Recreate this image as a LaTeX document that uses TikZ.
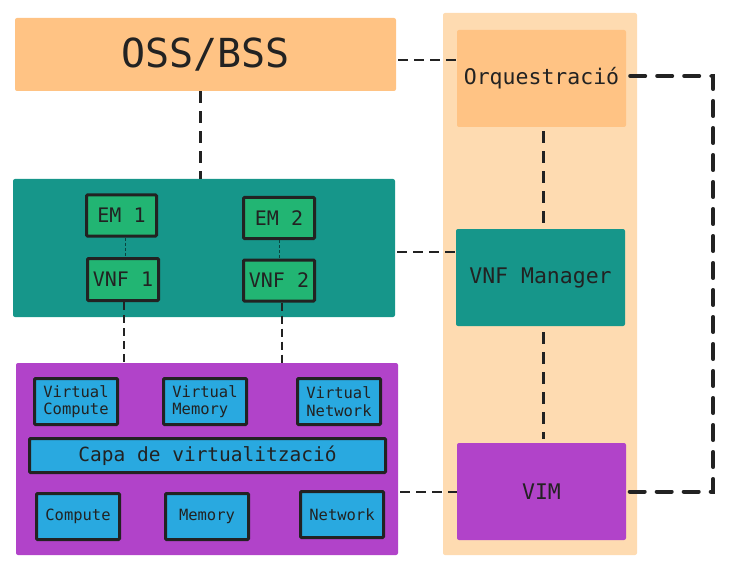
\documentclass[tikz,border=0pt]{standalone}
\usepackage{fontspec}
\newfontfamily\monof{DejaVu Sans Mono}
\definecolor{peach}{HTML}{FFC384}
\definecolor{peachbg}{HTML}{FEDBB1}
\definecolor{tealc}{HTML}{16968A}
\definecolor{greenc}{HTML}{22B573}
\definecolor{purplec}{HTML}{B143C9}
\definecolor{bluec}{HTML}{29A9E0}
\definecolor{inkc}{HTML}{222222}
\tikzset{
  flat/.style={draw=none, rounded corners=2pt, inner sep=0pt, text=inkc},
  boxed/.style={draw=inkc, line width=3pt, rounded corners=1pt, inner sep=0pt, text=inkc},
  fs/.style={font=\monof\fontsize{#1}{#1}\selectfont},
  fsl/.style={font=\monof\fontsize{15.5}{17.5}\selectfont, align=left},
  dthin/.style={draw=inkc, line width=2pt, dash pattern=on 10pt off 6pt},
  dmid/.style={draw=inkc, line width=3pt, dash pattern=on 12pt off 8pt},
  dthick/.style={draw=inkc, line width=4pt, line cap=round, dash pattern=on 15pt off 12pt},
  demvnf/.style={draw=black!55!tealc, line width=0.8pt, dash pattern=on 3pt off 2pt},
  dvnf/.style={draw=inkc, line width=2pt, dash pattern=on 8pt off 5pt},
}
\begin{document}
\begin{tikzpicture}[x=1pt,y=-1pt]
\useasboundingbox (0,0) rectangle (736,572);
% orchestration column background
\node[flat, fill=peachbg, minimum width=194pt, minimum height=542pt] (col) at (540,284) {};
% OSS/BSS
\node[flat, fill=peach, minimum width=381pt, minimum height=73pt, fs=40] (oss) at (205.5,54.5) {OSS/BSS};
% right column
\node[flat, fill=peach, minimum width=169pt, minimum height=97pt, fs=21.5] (orq) at (541.5,78.5) {Orquestració};
\node[flat, fill=tealc, minimum width=169pt, minimum height=97pt, fs=21.5] (vnfm) at (540.5,277.5) {VNF Manager};
\node[flat, fill=purplec, minimum width=169pt, minimum height=97pt, fs=21.5] (vim) at (541.5,491.5) {VIM};
% VNF area
\node[flat, fill=tealc, minimum width=382pt, minimum height=138pt] (nfv) at (204,248) {};
\node[boxed, fill=greenc, minimum width=70pt, minimum height=41pt, fs=20] (em1) at (121.5,215.5) {EM 1};
\node[boxed, fill=greenc, minimum width=71pt, minimum height=41pt, fs=20] (em2) at (279,218) {EM 2};
\node[boxed, fill=greenc, minimum width=71pt, minimum height=42pt, fs=20] (vnf1) at (123,279.5) {VNF 1};
\node[boxed, fill=greenc, minimum width=71pt, minimum height=41pt, fs=20] (vnf2) at (279,280.5) {VNF 2};
% NFVI
\node[flat, fill=purplec, minimum width=382pt, minimum height=192pt] (nfvi) at (207,459) {};
\node[boxed, fill=bluec, minimum width=83pt, minimum height=46pt, fsl] (vc) at (76,401.5) {Virtual\\Compute};
\node[boxed, fill=bluec, minimum width=83pt, minimum height=46pt, fsl] (vm) at (205,401.5) {Virtual\\Memory};
\node[boxed, fill=bluec, minimum width=83pt, minimum height=46pt, fsl] (vn) at (339,401.5) {Virtual\\Network};
\node[boxed, fill=bluec, minimum width=356pt, minimum height=34pt, fs=19.5] (capa) at (207.5,455.5) {Capa de virtualització};
\node[boxed, fill=bluec, minimum width=83pt, minimum height=46pt, fs=15.5] (cmp) at (78,516.5) {Compute};
\node[boxed, fill=bluec, minimum width=83pt, minimum height=46pt, fs=15.5] (mem) at (207,516.5) {Memory};
\node[boxed, fill=bluec, minimum width=83pt, minimum height=46pt, fs=15.5] (net) at (342,514.5) {Network};
% connectors
\draw[dmid] ([xshift=-5pt]oss.south) -- ([xshift=-5pt]oss.south |- nfv.north);
\draw[dthin] ([xshift=2pt,yshift=-5.5pt]oss.east) -- ([yshift=-5.5pt]oss.east -| orq.west);
\draw[dthin] ([xshift=2pt,yshift=-4pt]nfv.east) -- ([yshift=-4pt]nfv.east -| vnfm.west);
\draw[dthin] (vim.west -| nfvi.east) ++(2pt,0) -- (vim.west);
\draw[dmid, shorten <=4pt, shorten >=3pt] ([xshift=1.5pt]orq.south) -- ([xshift=2.5pt]vnfm.south |- vnfm.north);
\draw[dmid, shorten <=6pt, shorten >=4pt] ([xshift=2.5pt]vnfm.south) -- ([xshift=1.5pt]vim.north);
\draw[dthick] ([xshift=4pt,yshift=2.5pt]orq.east) -- ++(83pt,0) |- ([xshift=2pt]vim.east);
\draw[demvnf] ([xshift=3.5pt]em1.south) -- ([xshift=2pt]vnf1.north);
\draw[demvnf] (em2.south) -- (vnf2.north);
\draw[dvnf] ([xshift=1pt]vnf1.south) -- ([xshift=1pt]vnf1.south |- nfvi.north);
\draw[dvnf] ([xshift=3pt]vnf2.south) -- ([xshift=3pt]vnf2.south |- nfvi.north);
\end{tikzpicture}
\end{document}
